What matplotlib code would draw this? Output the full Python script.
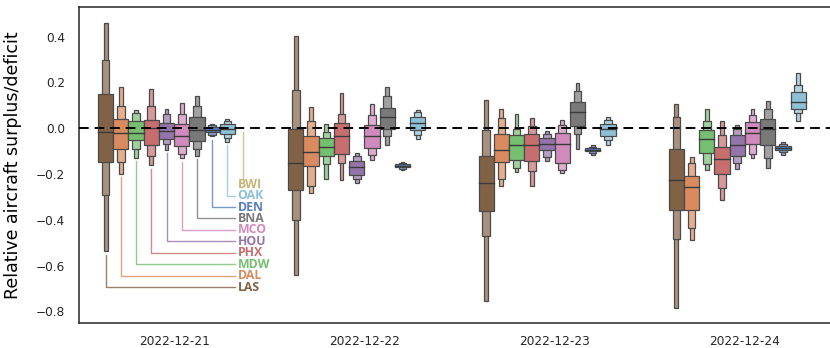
import matplotlib.pyplot as plt
import matplotlib.colors as mcolors
import colorsys

dates = ['2022-12-21', '2022-12-22', '2022-12-23', '2022-12-24']
airports = ['LAS', 'DAL', 'MDW', 'PHX', 'HOU', 'MCO', 'BNA', 'DEN', 'OAK', 'BWI']
colors = ['#8C613C', '#EE854A', '#6ACC64', '#D65F5F', '#956CB4',
          '#DC7EC0', '#797979', '#4878D0', '#82C6E2', '#D5BB67']

# letter values per airport (rows) and date (columns); BWI has no data
median = [[-0.016, -0.150, -0.237, -0.227],
          [-0.019, -0.103, -0.093, -0.256],
          [-0.019, -0.084, -0.074, -0.049],
          [0.000, -0.035, -0.071, -0.135],
          [-0.012, -0.169, -0.067, -0.071],
          [-0.035, -0.035, -0.070, -0.019],
          [-0.006, 0.047, 0.071, -0.002],
          [-0.009, -0.164, -0.093, -0.086],
          [-0.002, 0.025, -0.002, 0.115]]
box_lo = [[-0.147, -0.271, -0.361, -0.355],
          [-0.089, -0.166, -0.147, -0.355],
          [-0.052, -0.121, -0.137, -0.108],
          [-0.074, -0.111, -0.143, -0.198],
          [-0.045, -0.202, -0.096, -0.121],
          [-0.079, -0.086, -0.150, -0.070],
          [-0.055, -0.002, 0.010, -0.074],
          [-0.018, -0.170, -0.100, -0.095],
          [-0.023, -0.009, -0.035, 0.083]]
box_hi = [[0.148, -0.002, -0.122, -0.089],
          [0.042, -0.033, -0.023, -0.208],
          [0.031, -0.042, -0.031, -0.009],
          [0.035, 0.023, -0.027, -0.082],
          [0.025, -0.143, -0.042, -0.031],
          [0.020, 0.016, -0.020, 0.028],
          [0.049, 0.090, 0.115, 0.042],
          [0.005, -0.158, -0.085, -0.077],
          [0.020, 0.049, 0.017, 0.159]]
mid_lo = [[-0.290, -0.399, -0.472, -0.482],
          [-0.147, -0.252, -0.220, -0.434],
          [-0.089, -0.155, -0.173, -0.157],
          [-0.122, -0.150, -0.188, -0.263],
          [-0.067, -0.220, -0.125, -0.150],
          [-0.111, -0.115, -0.181, -0.111],
          [-0.089, -0.033, -0.023, -0.132],
          [-0.028, -0.177, -0.108, -0.105],
          [-0.042, -0.031, -0.052, 0.067]]
mid_hi = [[0.297, 0.169, -0.006, 0.049],
          [0.096, 0.031, 0.045, -0.152],
          [0.067, -0.016, -0.002, 0.032],
          [0.097, 0.064, 0.009, -0.028],
          [0.064, -0.122, -0.023, -0.004],
          [0.064, 0.057, 0.016, 0.057],
          [0.096, 0.140, 0.161, 0.086],
          [0.012, -0.153, -0.080, -0.068],
          [0.032, 0.071, 0.038, 0.188]]
out_lo = [[-0.537, -0.639, -0.755, -0.787],
          [-0.198, -0.282, -0.252, -0.489],
          [-0.128, -0.220, -0.191, -0.181],
          [-0.162, -0.224, -0.252, -0.314],
          [-0.093, -0.239, -0.144, -0.176],
          [-0.132, -0.140, -0.195, -0.132],
          [-0.121, -0.071, -0.089, -0.172],
          [-0.035, -0.183, -0.115, -0.115],
          [-0.060, -0.048, -0.071, 0.031]]
out_hi = [[0.461, 0.402, 0.125, 0.108],
          [0.180, 0.093, 0.083, -0.125],
          [0.081, 0.017, 0.060, 0.086],
          [0.170, 0.156, 0.045, 0.032],
          [0.086, -0.106, -0.013, 0.013],
          [0.110, 0.108, 0.035, 0.083],
          [0.140, 0.180, 0.198, 0.119],
          [0.017, -0.148, -0.075, -0.060],
          [0.042, 0.081, 0.049, 0.243]]


def desat(c, prop=0.75):
    r, g, b = mcolors.to_rgb(c)
    h, l, s = colorsys.rgb_to_hls(r, g, b)
    return colorsys.hls_to_rgb(h, l, s * prop)


def lighten(c, amt):
    return tuple(v + (1 - v) * amt for v in c)


fig = plt.figure(figsize=(8.3, 3.48), dpi=100)
ax = fig.add_axes([79 / 830, 1 - 322.7 / 348, 761 / 830, (322.7 - 7.3) / 348])

n = len(airports)
slot = 0.8 / n
edge = '#4a4a4a'

for i in range(len(median)):
    base = desat(colors[i])
    light = lighten(base, 0.3)
    for j in range(len(dates)):
        x = j - 0.4 + slot * (i + 0.5)
        levels = [(out_lo, out_hi, 0.25, light), (mid_lo, mid_hi, 0.5, light),
                  (box_lo, box_hi, 1.0, base)]
        for lo, hi, w, c in levels:
            ax.bar(x, hi[i][j] - lo[i][j], width=slot * w, bottom=lo[i][j],
                   color=c, edgecolor=edge, linewidth=0.9, zorder=2)
        ax.plot([x - slot / 2, x + slot / 2], [median[i][j]] * 2,
                color='#3a3a3a', lw=1.0, zorder=3)

ax.axhline(0, color='black', ls=(0, (5, 3)), lw=1.4, zorder=4)

# labels for the first date
lab_x = 0.322
for i, ap in enumerate(airports):
    x = -0.4 + slot * (i + 0.5)
    bottom = out_lo[i][0] if i < len(median) else 0.0
    y_lab = -0.694 + 0.05 * i
    c = desat(colors[i])
    if x < lab_x:
        xs, ys = [x, x, lab_x], [bottom - 0.015, y_lab, y_lab]
    else:
        xs, ys = [x, x], [bottom - 0.015, y_lab + 0.027]
    ax.plot(xs, ys, color=c, lw=1.0, alpha=0.8, zorder=1)
    ax.text(lab_x + 0.012, y_lab, ap, color=c, fontsize=8.8,
            family=['Open Sans', 'DejaVu Sans'], fontweight='bold',
            va='center', ha='left')

ax.set_xlim(-0.5, 3.5)
ax.set_ylim(-0.849, 0.528)
ax.set_xticks(range(len(dates)))
ax.set_xticklabels(dates)
ax.set_yticks([0.4, 0.2, 0.0, -0.2, -0.4, -0.6, -0.8])
ax.tick_params(axis='both', length=0, labelsize=8.7, colors='#262626', pad=10)
ax.tick_params(axis='x', pad=9)
ax.set_ylabel('Relative aircraft surplus/deficit', fontsize=12.5, labelpad=10)
for s in ax.spines.values():
    s.set_color('#262626')
    s.set_linewidth(1.1)

fig.savefig('out.png', dpi=100)
